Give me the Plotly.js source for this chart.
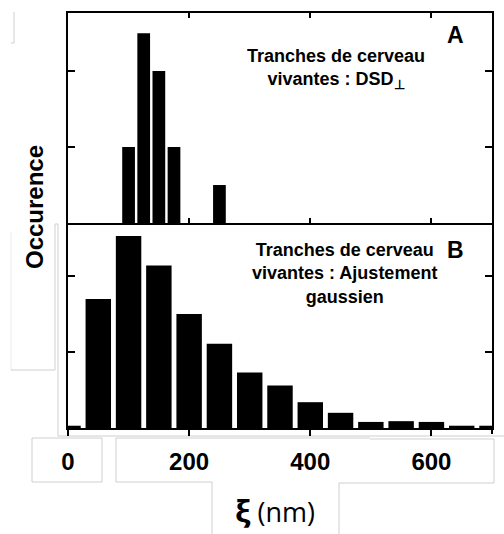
<!DOCTYPE html>
<html>
<head>
<meta charset="utf-8">
<script src="https://cdn.plot.ly/plotly-3.0.1.min.js"></script>
<style>html,body{margin:0;padding:0;background:#fff;}#chart{width:504px;height:534px;}</style>
</head>
<body>
<div id="chart"></div>
<script>
// Panel A (DSD⊥): bin centres (nm) and occurrences
const binsA = [100, 125, 150, 175, 250];
const countsA = [2, 5, 4, 2, 1];
// Panel B (Gaussian fit): bin centres (nm) and occurrences (relative)
const binsB = [0, 50, 100, 150, 200, 250, 300, 350, 400, 450, 500, 550, 600, 650, 700];
const countsB = [3, 170, 253, 214, 150, 111, 73, 56, 34, 20, 8, 9, 8, 3, 3];
// x tick labels
const xTickVals = [0, 200, 400, 600];
const xTickText = ['0', '200', '400', '600'];

const FONT = 'Arial, "Liberation Sans", sans-serif';
const W = 504, H = 534, L = 68, R = 12, T = 13, B = 106;
const pw = W - L - R, ph = H - T - B;
const px = x => (x - L) / pw;
const py = y => (H - B - y) / ph;
const split = py(223);

function seg(x0, y0, x1, y1, c, w) {
  return {type: 'line', xref: 'paper', yref: 'paper', x0: px(x0), y0: py(y0), x1: px(x1), y1: py(y1),
    line: {color: c || '#cfcfcf', width: w || 1}, layer: 'below'};
}
const shapes = [
  seg(14, 12, 14, 43), seg(11, 43, 14, 43),
  seg(11, 232, 11, 370, '#ececec'), seg(11, 370, 55, 370), seg(55, 224, 55, 370), seg(55, 224, 58, 224),
  seg(58, 224, 58, 436), seg(58, 436, 504, 436),
  seg(32, 438, 102, 438), seg(32, 438, 32, 482), seg(32, 482, 102, 482), seg(102, 438, 102, 482),
  seg(116, 438, 370, 438), seg(116, 438, 116, 482), seg(116, 482, 212, 482), seg(212, 482, 212, 534),
  seg(370, 439, 494, 439), seg(494, 439, 494, 483), seg(339, 483, 494, 483), seg(339, 483, 339, 534),
  // small tick at the right end of the lower axis
  Object.assign(seg(492, 428, 492, 434, '#000', 2), {layer: 'above'})
];

const traces = [
  {type: 'bar', x: binsA, y: countsA, xaxis: 'x2', yaxis: 'y2',
   marker: {color: '#000', line: {width: 0}}, hoverinfo: 'skip'},
  {type: 'bar', x: binsB, y: countsB, xaxis: 'x', yaxis: 'y',
   marker: {color: '#000', line: {width: 0}}, hoverinfo: 'skip'}
];

const axBase = {showgrid: false, zeroline: false, showline: true, linecolor: '#000', linewidth: 2,
  tickcolor: '#000', tickwidth: 2};

function note(text, x, y, size, extra) {
  return Object.assign({text: text, xref: 'paper', yref: 'paper', x: px(x), y: py(y),
    xanchor: 'center', yanchor: 'middle', showarrow: false, align: 'center',
    font: {family: FONT, size: size, color: '#000'}}, extra || {});
}

const layout = {
  width: W, height: H,
  margin: {l: L, r: R, t: T, b: B},
  paper_bgcolor: '#fff', plot_bgcolor: '#fff',
  showlegend: false, bargap: 0.16,
  font: {family: FONT, color: '#000'},
  xaxis: Object.assign({}, axBase, {domain: [0, 1], range: [0, 700], anchor: 'y',
    tickvals: xTickVals, ticktext: xTickText, ticks: 'outside', ticklen: 6,
    ticklabelstandoff: 5,
    tickfont: {family: FONT, size: 24, weight: 'bold', color: '#000'}}),
  yaxis: Object.assign({}, axBase, {domain: [0, split], range: [0, 270], anchor: 'x',
    tickvals: [100, 200], ticks: 'inside', ticklen: 7, showticklabels: false, mirror: 'allticks'}),
  xaxis2: Object.assign({}, axBase, {domain: [0, 1], range: [0, 700], anchor: 'y2', matches: 'x',
    tickvals: [200, 400, 600], ticks: 'inside', ticklen: 5, showticklabels: false, mirror: 'allticks'}),
  yaxis2: Object.assign({}, axBase, {domain: [split, 1], range: [0, 5.53], anchor: 'x2',
    tickvals: [2, 4], ticks: 'inside', ticklen: 7, showticklabels: false, mirror: 'allticks'}),
  shapes: shapes,
  annotations: [
    note('<b>Occurence</b>', 34, 207, 24, {textangle: -90}),
    note('<b>A</b>', 455, 35, 23),
    note('<b>Tranches de cerveau<br>vivantes : DSD<sub>⊥</sub></b>', 336, 69, 18),
    note('<b>B</b>', 455, 250, 23),
    note('<b>Tranches de cerveau<br>vivantes : Ajustement<br>gaussien</b>', 344, 273, 18),
    note('<span style="font-size:31px"><b>ξ</b></span> (nm)', 275, 510, 27,
      {font: {family: '"Open Sans", Arial, sans-serif', size: 27, color: '#000'}})
  ]
};

Plotly.newPlot('chart', traces, layout, {staticPlot: true, displayModeBar: false});
</script>
</body>
</html>
